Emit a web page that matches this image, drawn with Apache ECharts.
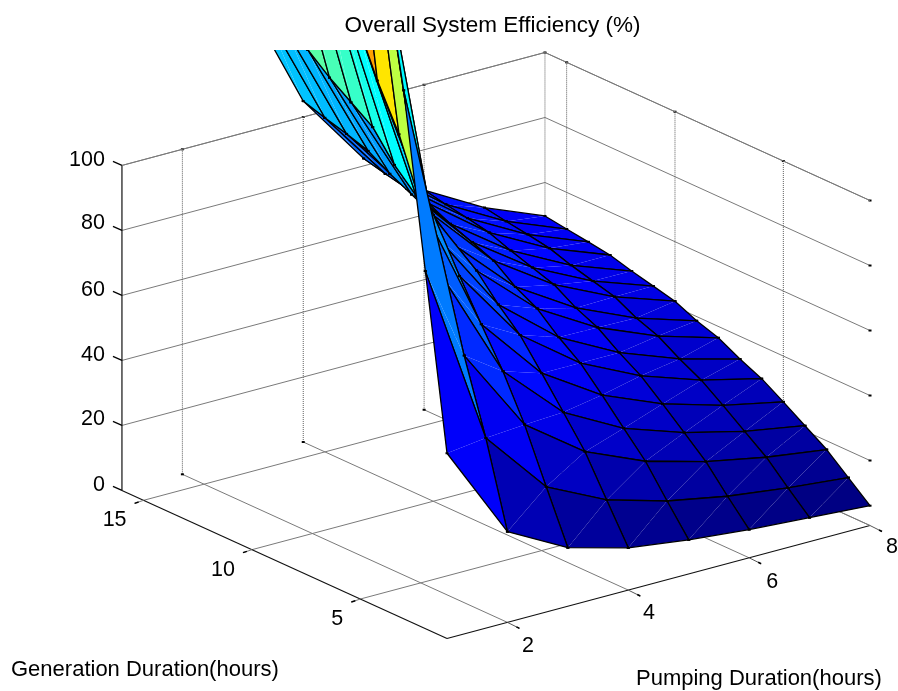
<!DOCTYPE html>
<html>
<head>
<meta charset="utf-8">
<style>html,body{margin:0;padding:0;background:#fff}#c{width:898px;height:691px}</style>
<script src="https://cdn.jsdelivr.net/npm/echarts@6/dist/echarts.min.js"></script>
</head>
<body>
<div id="c"></div>
<script>
const titleText = 'Overall System Efficiency (%)';
const pumpLabel = 'Pumping Duration(hours)';
const genLabel = 'Generation Duration(hours)';
const pumpHours = [1,2,3,4,5,6,7,8];
const genHours = [1,2,3,4,5,6,7,8,9,10,11,12,13,14,15,16];
const pumpTicks = [2,4,6,8];
const genTicks = [5,10,15];
const effTicks = [0,20,40,60,80,100];
// efficiency[pump index][generation index]
const effPump1 = [57,110,162.6,203,243.5,282,310,330,350,370,385,398,410,418,425,430];
const effPump2 = [27.9,53.7,76,97.2,116.6,135,148.5,164.3,174.2,187.7,194.9,202.1,210.6,215.1,219.2,223.7];
const effPump3 = [18,33.7,49.8,63.2,74.6,86.4,95,105.1,111.5,120.1,124.7,129.3,134.8,137.7,140.3,143.1];
const effPump4 = [13,24.7,36.5,45.6,54.6,63.3,69.6,77,81.7,88,91.4,94.7,98.7,100.9,102.8,104.9];
const effPump5 = [10.5,19.4,28.6,35.7,42.9,49.7,54.6,60.4,64,69,71.7,74.3,77.5,79.1,80.6,82.3];
const effPump6 = [8.7,15.9,23.5,29.4,35.2,40.8,44.9,49.6,52.6,56.7,58.9,61.1,63.6,65,66.2,67.6];
const effPump7 = [7.4,13.5,19.9,24.8,29.8,34.5,38,42,44.5,48,49.8,51.6,53.8,55,56,57.2];
const effPump8 = [6.1,11.7,17.3,21.6,25.9,30,33,36.5,38.7,41.7,43.3,44.9,46.8,47.8,48.7,49.7];
const eff = [effPump1,effPump2,effPump3,effPump4,effPump5,effPump6,effPump7,effPump8];

// Orthographic 3D view of the box X 1..8, Y 1..16, Z 0..100
const view = {ox:447, oy:638.5, xx:60.43, xy:-16.14, yx:-21.67, yy:-9.87, zy:-3.25};
function project(X,Y,Z){
  return [view.ox + (X-1)*view.xx + (Y-1)*view.yx,
          view.oy + (X-1)*view.xy + (Y-1)*view.yy + Z*view.zy];
}

const allZ = eff.flat();
const zMin = Math.min(...allZ), zMax = Math.max(...allZ);
function jet(v){
  const t = (v-zMin)/(zMax-zMin);
  const c = x => Math.round(255*Math.max(0,Math.min(1,x)));
  return 'rgb('+c(Math.min(4*t-1.5,-4*t+4.5))+','+c(Math.min(4*t-0.5,-4*t+3.5))+','+c(Math.min(4*t+0.5,-4*t+2.5))+')';
}

// A height field seen from the low-X, low-Y side: paint far cells first
const cells = [];
for(let i=pumpHours.length-2;i>=0;i--){
  for(let j=genHours.length-2;j>=0;j--){
    cells.push([i,j]);
  }
}

const GRID = '#7a7a7a', DOT = '#5c5c5c';
function renderSurface(params, api){
  const i = api.value(0), j = api.value(1);
  const P = (a,b) => api.coord(project(pumpHours[a],genHours[b],eff[a][b]));
  const p00=P(i,j), p10=P(i+1,j), p11=P(i+1,j+1), p01=P(i,j+1);
  const fill = jet(eff[i][j]);
  const dash = p => ({type:'rect',shape:{x:p[0]-1.5,y:p[1]-1,width:3,height:2},style:{fill:'#000'}});
  return {type:'group',children:[
    {type:'polygon',shape:{points:[p00,p10,p11]},style:{fill:fill}},
    {type:'polygon',shape:{points:[p00,p11,p01]},style:{fill:fill}},
    {type:'polygon',shape:{points:[p00,p10,p11,p01]},style:{fill:'none',stroke:'#000',lineWidth:1.3,lineJoin:'round'}},
    dash(p00),dash(p10),dash(p11),dash(p01)
  ]};
}

function renderAxes(params, api){
  const x0=pumpHours[0], x1=pumpHours[7], y0=genHours[0], y1=genHours[15], zTop=effTicks[5];
  const ch=[];
  const seg=(a,b,stroke,w,dash)=>{
    const A=api.coord(a),B=api.coord(b);
    ch.push({type:'line',shape:{x1:A[0],y1:A[1],x2:B[0],y2:B[1]},style:{stroke:stroke,lineWidth:w||1,lineDash:dash||null}});
  };
  const dot=a=>{const A=api.coord(a);ch.push({type:'rect',shape:{x:A[0]-1.5,y:A[1]-1,width:3,height:2},style:{fill:'#000'}});};
  // Walls and floor
  effTicks.forEach(z=>{
    if(z>0){
      seg(project(x0,y1,z),project(x1,y1,z),GRID);
      seg(project(x1,y1,z),project(x1,y0,z),GRID);
      dot(project(x1,y0,z));
    }
  });
  pumpTicks.forEach(x=>{
    seg(project(x,y0,0),project(x,y1,0),GRID);
    seg(project(x,y1,0),project(x,y1,zTop),DOT,1,[1,1]);
    dot(project(x,y1,0)); dot(project(x,y1,zTop));
  });
  genTicks.forEach(y=>{
    seg(project(x0,y,0),project(x1,y,0),GRID);
    seg(project(x1,y,0),project(x1,y,zTop),DOT,1,[1,1]);
    dot(project(x1,y,0)); dot(project(x1,y,zTop));
  });
  // Axis edges
  seg(project(x0,y1,0),project(x0,y0,0),'#111',1.2);
  seg(project(x0,y0,0),project(x1,y0,0),'#111',1.2);
  seg(project(x0,y1,0),project(x0,y1,zTop),'#111',1.2);
  seg(project(x1,y0,0),project(x1,y1,0),GRID);
  seg(project(x0,y1,zTop),project(x1,y1,zTop),GRID);
  seg(project(x1,y1,zTop),project(x1,y0,zTop),GRID);
  // Tick marks
  effTicks.forEach(z=>{
    const p=project(x0,y1,z);
    seg(p,[p[0]-9,p[1]-4],'#000',1.3);
  });
  genTicks.forEach(y=>{
    const p=project(x0,y,0);
    seg(p,[p[0]-9,p[1]+3],GRID,1);
    seg([p[0]-5,p[1]+1.7],[p[0]-9,p[1]+3],'#000',1.4);
  });
  pumpTicks.forEach(x=>{
    const p=project(x,y0,0);
    seg(p,[p[0]+12,p[1]+6],'#555',1);
    seg([p[0]+9,p[1]+4.5],[p[0]+12,p[1]+6],'#000',1.6);
  });
  return {type:'group',children:ch};
}

const pumpLabelOffset = [[20.6,24],[20.7,23.4],[23,24],[22,21.5]];
const genLabelOffset = [[-23,20.5],[-29,20],[-29,20]];
const effLabelOffset = [-5,-6,-5,-5,-7,-5];
function renderLabels(params, api){
  const ch=[];
  const txt=(s,x,y,align)=>ch.push({type:'text',style:{text:String(s),x:x,y:y,align:align||'center',verticalAlign:'middle',
    font:'21.5px "Liberation Sans", Arial, sans-serif',fill:'#000'}});
  const x0=pumpHours[0], y0=genHours[0], y1=genHours[15];
  effTicks.forEach((z,k)=>{const p=api.coord(project(x0,y1,z));txt(z,p[0]-17,p[1]+effLabelOffset[k],'right');});
  genTicks.forEach((y,k)=>{const p=api.coord(project(x0,y,0));txt(y,p[0]+genLabelOffset[k][0],p[1]+genLabelOffset[k][1]);});
  pumpTicks.forEach((x,k)=>{const p=api.coord(project(x,y0,0));txt(x,p[0]+pumpLabelOffset[k][0],p[1]+pumpLabelOffset[k][1]);});
  return {type:'group',children:ch};
}

const chart = echarts.init(document.getElementById('c'),null,{renderer:'canvas'});
const labelFont = {fontFamily:'"Liberation Sans", Arial, sans-serif',fontSize:22,fontWeight:'normal',color:'#000'};
chart.setOption({
  animation:false,
  backgroundColor:'#fff',
  title:[
    {text:titleText,left:492.5,top:14,textAlign:'center',textStyle:Object.assign({},labelFont,{fontSize:22.5}),padding:0},
    {text:genLabel,left:11,top:659,textStyle:labelFont,padding:0},
    {text:pumpLabel,left:636,top:668,textStyle:labelFont,padding:0}
  ],
  grid:{left:0,right:0,top:50,bottom:0,containLabel:false},
  xAxis:{type:'value',min:0,max:898,show:false},
  yAxis:{type:'value',min:50,max:691,inverse:true,show:false},
  series:[
    {type:'custom',coordinateSystem:'cartesian2d',silent:true,clip:true,z:1,data:[[0,50]],renderItem:renderAxes,encode:{x:0,y:1}},
    {type:'custom',coordinateSystem:'cartesian2d',silent:true,clip:false,z:1,data:[[0,50]],renderItem:renderLabels,encode:{x:0,y:1}},
    {type:'custom',coordinateSystem:'cartesian2d',silent:true,clip:true,z:2,data:cells,renderItem:renderSurface,encode:{x:0,y:1}}
  ]
});
</script>
</body>
</html>
